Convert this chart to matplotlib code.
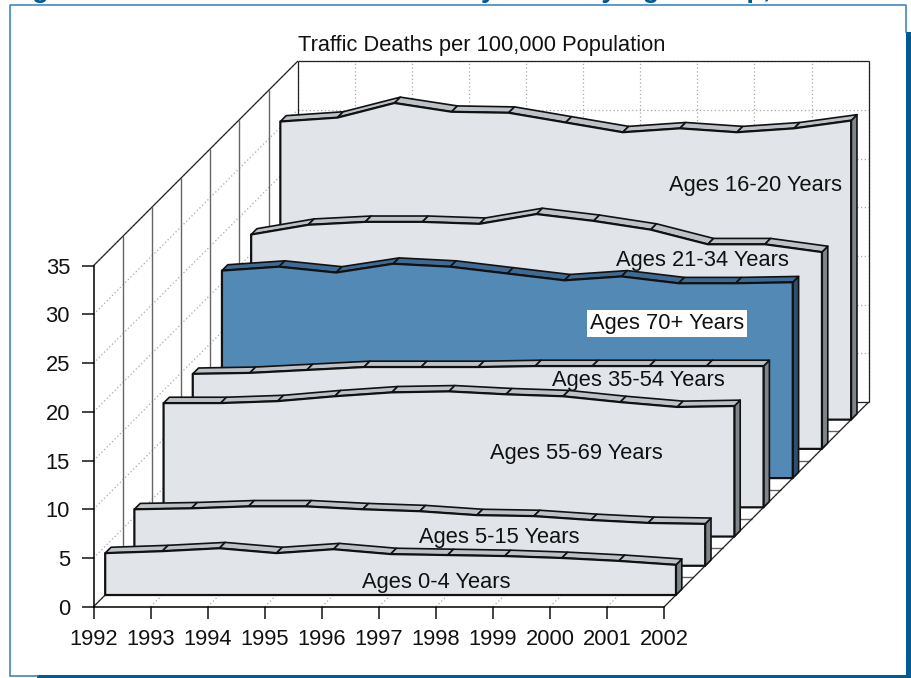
"""Traffic deaths per 100,000 population by age group, drawn as a 3-D style ribbon chart."""
import matplotlib

matplotlib.use("Agg")
import matplotlib.pyplot as plt
from matplotlib.lines import Line2D
from matplotlib.patches import Rectangle

plt.rcParams["font.family"] = ["Liberation Sans", "DejaVu Sans"]

WIDTH, HEIGHT = 911, 678

years = list(range(1992, 2003))
y_ticks = [0, 5, 10, 15, 20, 25, 30, 35]

ages_0_4 = [4.3, 4.5, 4.8, 4.3, 4.7, 4.2, 4.1, 4.0, 3.8, 3.5, 3.1]
ages_5_15 = [5.8, 5.9, 6.1, 6.1, 5.8, 5.6, 5.2, 5.1, 4.7, 4.4, 4.3]
ages_55_69 = [13.7, 13.7, 13.9, 14.4, 14.8, 14.9, 14.6, 14.4, 13.8, 13.3, 13.4]
ages_35_54 = [13.7, 13.8, 14.1, 14.4, 14.4, 14.4, 14.5, 14.5, 14.5, 14.5, 14.5]
ages_70_up = [21.3, 21.7, 21.1, 22.0, 21.7, 21.0, 20.3, 20.7, 20.0, 20.0, 20.1]
ages_21_34 = [22.0, 23.0, 23.3, 23.3, 23.1, 24.1, 23.4, 22.5, 21.0, 21.0, 20.2]
ages_16_20 = [30.6, 31.0, 32.5, 31.6, 31.5, 30.5, 29.5, 29.9, 29.5, 29.9, 30.7]

# front to back
series = [ages_0_4, ages_5_15, ages_55_69, ages_35_54, ages_70_up, ages_21_34, ages_16_20]
names = ["Ages 0-4 Years", "Ages 5-15 Years", "Ages 55-69 Years", "Ages 35-54 Years",
         "Ages 70+ Years", "Ages 21-34 Years", "Ages 16-20 Years"]
label_years = [1997.8, 1998.4, 1999.24, 1999.8, 1999.8, 1999.9, 2000.33]
label_heights = [1.28, 2.9, 8.53, 13.02, 15.88, 19.34, 24.04]

# one row of depth moves this far in data units
DX = 3.58 / 7
DY = 3.0
N_ROWS = len(series)
BLUE = "#005a94"
THIN_BLUE = "#2f7fb8"
FONT_SIZE = 15.75


def project(year, value, depth):
    return year + DX * depth, value + DY * depth


def px_x(x):
    return x / WIDTH


def px_y(y):
    return 1 - y / HEIGHT


def quad(ax, corners, color, zorder, lw=1.2):
    xs, ys = zip(*[project(*c) for c in corners])
    ax.fill(xs, ys, facecolor=color, edgecolor="#111111", linewidth=lw,
            zorder=zorder, clip_on=False, joinstyle="round")


def guide(ax, start, end, zorder=1, **style):
    xs, ys = zip(project(*start), project(*end))
    ax.plot(xs, ys, clip_on=False, zorder=zorder, solid_capstyle="butt", **style)


fig = plt.figure(figsize=(WIDTH / 100, HEIGHT / 100), dpi=100, facecolor="white")

# panel frame and its shadow
fig.add_artist(Line2D([px_x(10), px_x(10), px_x(906), px_x(906)],
                      [px_y(675), px_y(4.5), px_y(4.5), px_y(32)], color=THIN_BLUE, lw=1.1))
fig.add_artist(Line2D([px_x(10), px_x(38)], [px_y(675.5), px_y(675.5)], color=THIN_BLUE, lw=1.1))
fig.add_artist(Rectangle((px_x(906), 0), 5 / WIDTH, px_y(32), color=BLUE, lw=0))
fig.add_artist(Rectangle((px_x(37), 0), 874 / WIDTH, 3 / HEIGHT, color=BLUE, lw=0))
# the heading is cut by the top edge in the reference too
fig.text(px_x(8), px_y(-2.7), "Figure 1. Motor Vehicle Traffic Fatality Rates by Age Group, 1992-2002",
         color=BLUE, fontsize=19.5, fontweight="bold", va="baseline")

ax = fig.add_axes([px_x(93.5), px_y(606.7), 570.8 / WIDTH, 341 / HEIGHT])
ax.patch.set_alpha(0)
ax.set_xlim(1992, 2002)
ax.set_ylim(0, 35)
ax.set_xticks(years)
ax.set_yticks(y_ticks)
ax.tick_params(length=8.4, width=1.1, labelsize=FONT_SIZE, color="#111111", labelcolor="#111111")
ax.tick_params(axis="x", pad=7.5)
ax.tick_params(axis="y", pad=8.5)
ax.spines["top"].set_visible(False)
ax.spines["right"].set_visible(False)
ax.spines["left"].set_linewidth(1.1)
ax.spines["bottom"].set_linewidth(1.1)

dotted = dict(color="#a8a8a8", lw=0.9, linestyle=(0, (1, 2)))
solid_gray = dict(color="#666666", lw=1.0)
solid_dark = dict(color="#222222", lw=0.9)

# back wall, left wall and floor grid
for v in y_ticks:
    guide(ax, (1992, v, 0), (1992, v, N_ROWS), **dotted)
    guide(ax, (1992, v, N_ROWS), (2002, v, N_ROWS), **dotted)
for yr in years:
    guide(ax, (yr, 0, 0), (yr, 0, N_ROWS), **dotted)
    guide(ax, (yr, 0, N_ROWS), (yr, 35, N_ROWS), **dotted)
for row in range(1, N_ROWS):
    guide(ax, (1992, 0, row), (1992, 35, row), **solid_gray)
    guide(ax, (1992, 0, row), (2002, 0, row), **solid_gray)
guide(ax, (1992, 35, 0), (1992, 35, N_ROWS), **solid_dark)
guide(ax, (1992, 35, N_ROWS), (2002, 35, N_ROWS), **solid_dark)
guide(ax, (1992, 35, N_ROWS), (1992, 0, N_ROWS), **solid_dark)
guide(ax, (2002, 35, N_ROWS), (2002, 0, N_ROWS), **solid_dark)
guide(ax, (2002, 0, 0), (2002, 0, N_ROWS), **solid_dark)
guide(ax, (1992, 0, 0), (1992, 0, N_ROWS), **solid_dark)
guide(ax, (1992, 0, N_ROWS), (2002, 0, N_ROWS), **solid_dark)

# ribbons, back row first
for row in reversed(range(N_ROWS)):
    values = series[row]
    front = row + 0.4
    back = row + 0.6
    z = 3 + (N_ROWS - row) * 3
    if names[row].startswith("Ages 70"):
        face, top, side = "#5389b5", "#3f6a94", "#2f4f6e"
    else:
        face, top, side = "#e1e5e9", "#bcc2c7", "#7e858b"

    quad(ax, [(2002, 0, front), (2002, values[-1], front), (2002, values[-1], back), (2002, 0, back)],
         side, z)
    for k in range(len(years) - 1):
        quad(ax, [(years[k], values[k], front), (years[k + 1], values[k + 1], front),
                  (years[k + 1], values[k + 1], back), (years[k], values[k], back)], top, z + 1)
    outline = [(1992, 0, front)] + [(yr, v, front) for yr, v in zip(years, values)] + [(2002, 0, front)]
    quad(ax, outline, face, z + 2, lw=1.6)

    lx, ly = project(label_years[row], label_heights[row], front)
    box = None
    if names[row].startswith("Ages 70"):
        box = dict(facecolor="white", edgecolor="none", pad=2.0)
    ax.text(lx, ly, names[row], fontsize=FONT_SIZE, color="#111111", ha="center", va="center",
            zorder=z + 2.5, bbox=box, clip_on=False)

fig.text(px_x(482), px_y(45), "Traffic Deaths per 100,000 Population", fontsize=FONT_SIZE,
         color="#111111", ha="center", va="center")

fig.savefig("out.png", dpi=100)
